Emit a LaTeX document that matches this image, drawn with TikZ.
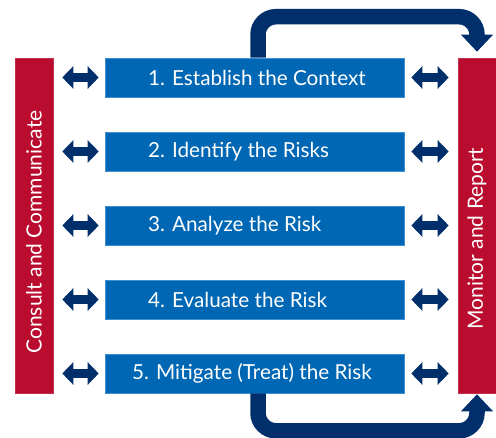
\documentclass[tikz,border=0pt]{standalone}
\usepackage{fontspec}
\setmainfont{Lato}
\usetikzlibrary{arrows.meta}
\definecolor{riskred}{HTML}{BA0C2F}
\definecolor{stepblue}{HTML}{0067B4}
\definecolor{stepedge}{HTML}{3F8FD2}
\definecolor{navy}{HTML}{002F6C}
\tikzset{
  sidebar/.style={fill=riskred, draw=riskred!85!white, line width=0.6pt,
    minimum width=38pt, minimum height=335pt, inner sep=0pt},
  sidetext/.style={rotate=90, text=white, font=\fontsize{21}{21}\selectfont, inner sep=0pt},
  stepbox/.style={fill=stepblue, draw=stepedge, line width=0.6pt,
    minimum width=299pt, minimum height=39pt, inner sep=0pt},
  steptext/.style={text=white, font=\fontsize{20.7}{20.7}\selectfont, anchor=west, inner sep=0pt},
  link/.style={draw=navy, line width=8.5pt,
    {Triangle[length=11pt,width=22pt]}-{Triangle[length=11pt,width=22pt]}},
  flow/.style={draw=navy, line width=15.5pt, rounded corners=18pt,
    -{Triangle[length=17pt,width=31pt]}}
}
\begin{document}
\begin{tikzpicture}[x=1pt, y=-1pt]
  \useasboundingbox (0,0) rectangle (496,438);

  % side bars
  \node[sidebar] (consult) at (34,225.5) {};
  \node[sidebar] (monitor) at (477,225.5) {};
  \node[sidetext] (consulttext) at (34,232) {Consult and Communicate};
  \node[sidetext] (monitortext) at (477,238.5) {Monitor and Report};

  % process steps
  \node[stepbox] (b1) at (254.5,77.5) {};
  \node[stepbox] (b2) at (254.5,151.5) {};
  \node[stepbox] (b3) at (254.5,225.5) {};
  \node[stepbox] (b4) at (254.5,299.5) {};
  \node[stepbox] (b5) at (254.5,373.5) {};
  \node[steptext] (t1) at (148,77.5) {1. Establish the Context};
  \node[steptext] (t2) at (148,151.5) {2. Identify the Risks};
  \node[steptext] (t3) at (148,225.5) {3. Analyze the Risk};
  \node[steptext] (t4) at (148,299.5) {4. Evaluate the Risk};
  \node[steptext] (t5) at (132,373.5) {5. Mitigate (Treat) the Risk};

  % two-way links between the bars and each step
  \foreach \b in {b1,b2,b3,b4,b5}{
    \draw[link, shorten <=9pt, shorten >=6pt] (\b.west -| consult.east) -- (\b.west);
    \draw[link, shorten <=7pt, shorten >=9pt] (\b.east) -- (\b.east -| monitor.west);
  }

  % loop arrows into the monitoring bar
  \draw[flow] ([xshift=3.5pt]b1.north) -- ++(0,-41) -| ([yshift=6pt]monitor.north);
  \draw[flow] ([xshift=3.5pt]b5.south) -- ++(0,37.5) -| ([yshift=-1pt]monitor.south);
\end{tikzpicture}
\end{document}
